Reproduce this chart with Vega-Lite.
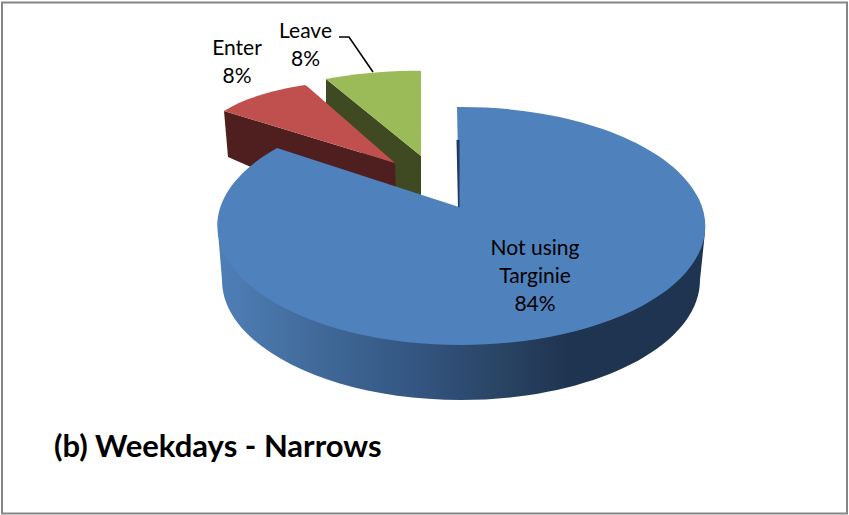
{
"$schema":"https://vega.github.io/schema/vega-lite/v6.json",
"width":845,"height":511,"padding":{"left":2,"top":2,"right":2,"bottom":2},"autosize":{"type":"none"},
"background":"white",
"config":{"view":{"stroke":null},"font":"Lato"},
"title":{"text":"(b) Weekdays - Narrows","orient":"bottom","anchor":"start","font":"Lato","fontSize":31,"fontWeight":"bold","color":"#000000","dx":56,"dy":-85,"offset":0},
"datasets":{
"slices":[
{"slice":"Not using Targinie","share":84,"label":"Not using\nTarginie\n84%"},
{"slice":"Enter","share":8,"label":"Enter\n8%"},
{"slice":"Leave","share":8,"label":"Leave\n8%"}],
"parts":[
{"key":"Leave side","slice":"Leave","share":8},
{"key":"Leave top","slice":"Leave","share":8},
{"key":"Enter side","slice":"Enter","share":8},
{"key":"Enter top","slice":"Enter","share":8},
{"key":"Not using side","slice":"Not using Targinie","share":84},
{"key":"Not using top","slice":"Not using Targinie","share":84},
{"key":"Not using wall","slice":"Not using Targinie","share":84},
{"key":"Leave leader","slice":"Leave","share":8},
{"key":"Chart frame","slice":"All","share":100}]},
"layer":[
{"data":{"name":"parts"},
"encoding":{"shape":{"field":"key","type":"nominal","legend":null,"scale":{
"domain":["Leave side","Leave top","Enter side","Enter top","Not using side","Not using top","Not using wall","Leave leader","Chart frame"],
"range":[
"M-98.5,-178.5L-98.5,-147.5L-28.5,-62.5L-3.5,-57.5L-3.5,-101.5Z",
"M-98.5,-178.5C-69.5,-183.5,-34.5,-187.5,-3.5,-186.5L-3.5,-101.5Z",
"M-200.5,-146.5L-196.5,-100.5L-162.5,-85.5L-28.5,-62.5L-29.5,-94.5Z",
"M-200.5,-146.5C-179.5,-160.5,-144.5,-168.5,-119.5,-172.5L-116.5,-170.5L-29.5,-94.5Z",
"M-206.5,-25.5L-202.5,22.5A239,120,0,0,0,275.5,22.5L280.5,-25.5Z",
"M34.5,-50.5L-147.5,-109.5A244,119,0,1,0,32.5,-150.5Z",
"M32,-117.5L35,-117.5L35,-50L33.5,-50.5Z",
"M-85.5,-220.5L-75.5,-220.5L-51.5,-185.5",
"M-422.5,-255L422.5,-255L422.5,256L-422.5,256Z"]}}},
"layer":[
{"transform":[{"filter":"indexof(['Leave side','Leave top','Enter side','Enter top'],datum.key)>=0"}],
"mark":{"type":"point","filled":true,"size":4,"opacity":1},
"encoding":{"fill":{"field":"key","type":"nominal","legend":null,"scale":{"domain":["Leave side","Leave top","Enter side","Enter top","Not using top","Not using wall"],"range":["#3f4a22","#9bbb59","#4f1f1f","#c0504d","#4f81bd","#1f3a5f"]}}}},
{"transform":[{"filter":"datum.key==='Not using side'"}],
"mark":{"type":"point","filled":true,"size":4,"opacity":1,"fill":{"gradient":"linear","x1":0,"y1":0,"x2":1,"y2":0,"stops":[{"offset":0,"color":"#4f7fb8"},{"offset":0.18,"color":"#426c9c"},{"offset":0.4,"color":"#345682"},{"offset":0.58,"color":"#294464"},{"offset":0.72,"color":"#1f3450"},{"offset":1,"color":"#1f3450"}]}}},
{"transform":[{"filter":"datum.key==='Not using top'||datum.key==='Not using wall'"}],
"mark":{"type":"point","filled":true,"size":4,"opacity":1},
"encoding":{"fill":{"field":"key","type":"nominal","legend":null,"scale":{"domain":["Leave side","Leave top","Enter side","Enter top","Not using top","Not using wall"],"range":["#3f4a22","#9bbb59","#4f1f1f","#c0504d","#4f81bd","#1f3a5f"]}}}},
{"transform":[{"filter":"datum.key==='Leave leader'"}],
"mark":{"type":"point","filled":false,"size":4,"opacity":1,"stroke":"#000000","strokeWidth":1.6}},
{"transform":[{"filter":"datum.key==='Chart frame'"}],
"mark":{"type":"point","filled":false,"size":4,"opacity":1,"stroke":"#868686","strokeWidth":2}}
]},
{"data":{"name":"slices"},"transform":[{"filter":"datum.slice==='Not using Targinie'"}],
"mark":{"type":"text","font":"Lato","fontSize":21,"lineBreak":"\n","lineHeight":28,"align":"center","baseline":"middle","dx":110.5,"dy":-9,"color":"#000000"},
"encoding":{"text":{"field":"label"}}},
{"data":{"name":"slices"},"transform":[{"filter":"datum.slice==='Enter'"}],
"mark":{"type":"text","font":"Lato","fontSize":21,"lineBreak":"\n","lineHeight":28,"align":"center","baseline":"middle","dx":-187.5,"dy":-209,"color":"#000000"},
"encoding":{"text":{"field":"label"}}},
{"data":{"name":"slices"},"transform":[{"filter":"datum.slice==='Leave'"}],
"mark":{"type":"text","font":"Lato","fontSize":21,"lineBreak":"\n","lineHeight":28,"align":"center","baseline":"middle","dx":-119,"dy":-226,"color":"#000000"},
"encoding":{"text":{"field":"label"}}}
]}
